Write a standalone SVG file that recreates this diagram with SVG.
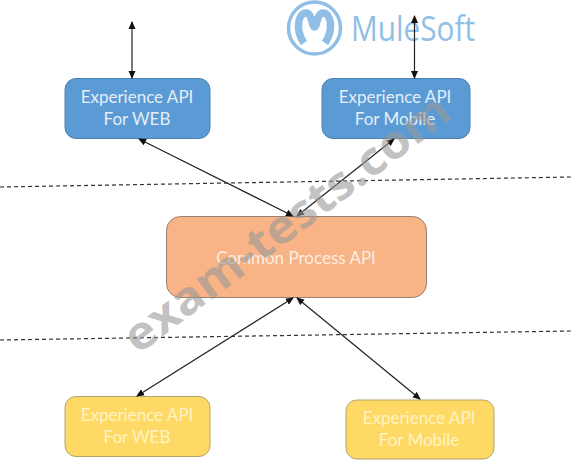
<svg xmlns="http://www.w3.org/2000/svg" width="572" height="465" viewBox="0 0 572 465">
<style>
.lbl{font-family:"Lato","Open Sans","Liberation Sans",sans-serif;font-size:17px;text-anchor:middle}
.blue rect{fill:#5b9bd5;stroke:#4f81ad;stroke-width:1}
.blue text{fill:#e4eef8}
.yel rect{fill:#ffd966;stroke:#b5a26a;stroke-width:1}
.yel text{fill:#fff3c4}
.con line{stroke:#222;stroke-width:1.200;marker-start:url(#a);marker-end:url(#a)}
.div line{stroke:#333;stroke-width:1.200;stroke-dasharray:4 3}
</style>
<defs><marker id="a" viewBox="0 0 8 8" refX="7" refY="4" markerWidth="8" markerHeight="8" markerUnits="userSpaceOnUse" orient="auto-start-reverse"><path d="M0 0.500L8 4L0 7.500Z" fill="#111"/></marker></defs>
<rect width="572" height="465" fill="#fff"/>
<g id="logo" fill="none" stroke="#8fbfe6">
<circle cx="314.500" cy="28" r="26" stroke-width="3.500"/>
<path d="M304 43C295 30 298 13 306 13C312 13 312 27 314.500 27C317 27 317 13 323 13C331 13 334 30 325 43" stroke-width="7.500"/>
<text x="351" y="41" font-family="'Open Sans','Liberation Sans',sans-serif" font-size="34" fill="#8fbfe6" stroke="none" textLength="124" lengthAdjust="spacingAndGlyphs">MuleSoft</text>
</g>
<g class="div"><line x1="0" y1="187" x2="572" y2="177"/><line x1="0" y1="340" x2="572" y2="331"/></g>
<g id="n1" class="blue"><rect x="65" y="78.500" width="145" height="60" rx="11"/><text class="lbl" x="137" y="103">Experience API</text><text class="lbl" x="137" y="125">For WEB</text></g>
<g id="n2" class="blue"><rect x="322" y="78.500" width="148" height="60" rx="11"/><text class="lbl" x="395" y="103">Experience API</text><text class="lbl" x="395" y="125">For Mobile</text></g>
<g id="n3"><rect x="166.500" y="216.500" width="260" height="81" rx="14" fill="#f8b386" stroke="#96806f"/><text class="lbl" x="296" y="264" fill="#fbeee0">Common Process API</text></g>
<g id="n4" class="yel"><rect x="65" y="396.500" width="145" height="60" rx="11"/><text class="lbl" x="137" y="421">Experience API</text><text class="lbl" x="137" y="443">For WEB</text></g>
<g id="n5" class="yel"><rect x="346" y="400" width="148" height="59" rx="11"/><text class="lbl" x="419" y="424">Experience API</text><text class="lbl" x="419" y="446">For Mobile</text></g>
<g class="con" id="connectors">
<line x1="132" y1="22" x2="132" y2="78"/>
<line x1="414.500" y1="16" x2="414.500" y2="78"/>
<line x1="139" y1="139" x2="293" y2="216"/>
<line x1="394" y1="139" x2="297" y2="216"/>
<line x1="137" y1="396" x2="293" y2="298"/>
<line x1="420" y1="399" x2="297" y2="298"/>
</g>
<text transform="translate(138 355) rotate(-37)" font-family="'Open Sans','Liberation Sans',sans-serif" font-weight="700" font-size="46" fill="#999" fill-opacity="0.6" textLength="396" lengthAdjust="spacingAndGlyphs">exam-tests.com</text>
</svg>
